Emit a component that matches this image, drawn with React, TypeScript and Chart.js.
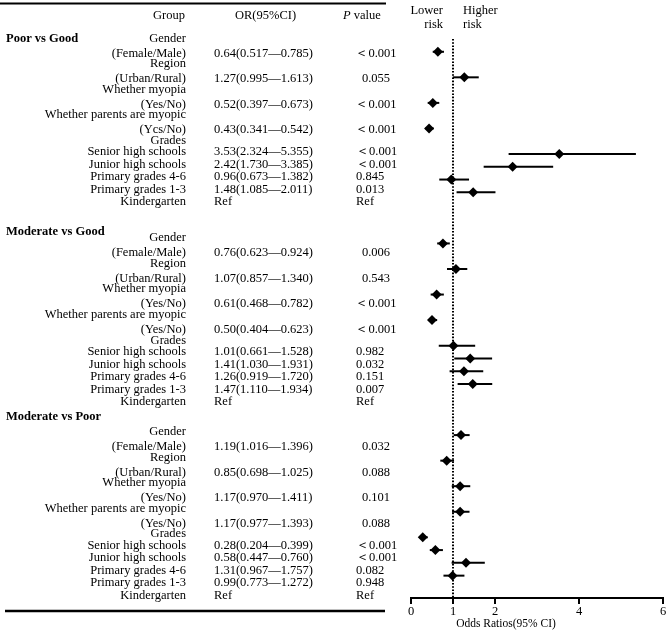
import React, { useEffect, useRef } from "react";
import { Chart, registerables } from "chart.js";

Chart.register(...registerables);

// ---------- data ----------
const GROUPS = ["Poor vs Good", "Moderate vs Good", "Moderate vs Poor"];
const VARIABLES = ["Gender", "Region", "Whether myopia", "Whether parents are myopic"];
const LEVELS_POOR_GOOD = ["(Female/Male)", "(Urban/Rural)", "(Yes/No)", "(Ycs/No)"];
const LEVELS_MOD_GOOD = ["(Female/Male)", "(Urban/Rural)", "(Yes/No)", "(Yes/No)"];
const LEVELS_MOD_POOR = ["(Female/Male)", "(Urban/Rural)", "(Yes/No)", "(Yes/No)"];
const GRADE_TITLE = "Grades";
const GRADES = ["Senior high schools", "Junior high schools", "Primary grades 4-6", "Primary grades 1-3"];
const REFERENCE_GRADE = "Kindergarten";
const REF_TEXT = "Ref";

const OR_POOR_GOOD = [0.64, 1.27, 0.52, 0.43, 3.53, 2.42, 0.96, 1.48];
const LO_POOR_GOOD = [0.517, 0.995, 0.397, 0.341, 2.324, 1.73, 0.673, 1.085];
const HI_POOR_GOOD = [0.785, 1.613, 0.673, 0.542, 5.355, 3.385, 1.382, 2.011];
const P_POOR_GOOD = ["＜0.001", "0.055", "＜0.001", "＜0.001", "＜0.001", "＜0.001", "0.845", "0.013"];

const OR_MOD_GOOD = [0.76, 1.07, 0.61, 0.5, 1.01, 1.41, 1.26, 1.47];
const LO_MOD_GOOD = [0.623, 0.857, 0.468, 0.404, 0.661, 1.03, 0.919, 1.11];
const HI_MOD_GOOD = [0.924, 1.34, 0.782, 0.623, 1.528, 1.931, 1.72, 1.934];
const P_MOD_GOOD = ["0.006", "0.543", "＜0.001", "＜0.001", "0.982", "0.032", "0.151", "0.007"];

const OR_MOD_POOR = [1.19, 0.85, 1.17, 1.17, 0.28, 0.58, 1.31, 0.99];
const LO_MOD_POOR = [1.016, 0.698, 0.97, 0.977, 0.204, 0.447, 0.967, 0.773];
const HI_MOD_POOR = [1.396, 1.025, 1.411, 1.393, 0.399, 0.76, 1.757, 1.272];
const P_MOD_POOR = ["0.032", "0.088", "0.101", "0.088", "＜0.001", "＜0.001", "0.082", "0.948"];

const X_TICKS = [0, 1, 2, 4, 6];
const X_TITLE = "Odds Ratios(95% CI)";
const HEADERS = ["Group", "OR(95%CI)", "P", " value"];
const RISK_LOW = ["Lower", "risk"];
const RISK_HIGH = ["Higher", "risk"];

// ---------- assembled ----------
const LEVELS = [LEVELS_POOR_GOOD, LEVELS_MOD_GOOD, LEVELS_MOD_POOR];
const ORS = [OR_POOR_GOOD, OR_MOD_GOOD, OR_MOD_POOR];
const LOS = [LO_POOR_GOOD, LO_MOD_GOOD, LO_MOD_POOR];
const HIS = [HI_POOR_GOOD, HI_MOD_GOOD, HI_MOD_POOR];
const PS = [P_POOR_GOOD, P_MOD_GOOD, P_MOD_POOR];

// ---------- layout ----------
const W = 669;
const H = 634;
const FONT = "'Liberation Serif', 'Times New Roman', serif";
const FS = 12.5;
const COL_HEAD_LEFT = 6;
const COL_GROUP_RIGHT = 186;
const COL_OR_LEFT = 214;
const COL_P_PAIR_CENTER = 376;
const COL_P_GRADE_LEFT = 356;
const BLOCK_TOP = [38.3, 238, 431.7];
const HEADING_DY = [0, -6.5, -15];
const LABEL_TO_VALUE = 15;
const PAIR_STEP = 25.6;
const GRADE_FIRST = 11.5;
const GRADE_STEP = 12.5;
const ROWS_PER_BLOCK = 15;
const FIRST_ROW = 4;

function markerRow(g: number, i: number) {
  return FIRST_ROW + ROWS_PER_BLOCK * g + (i < 4 ? 2 * i : 8 + (i - 4));
}

const points: any[] = [];
ORS.forEach((arr, g) =>
  arr.forEach((v, i) => points.push({ x: v, y: markerRow(g, i), lo: LOS[g][i], hi: HIS[g][i] }))
);

function fmtOR(g: number, i: number) {
  return `${ORS[g][i].toFixed(2)}(${LOS[g][i].toFixed(3)}—${HIS[g][i].toFixed(3)})`;
}

const tablePlugin = {
  id: "forestTable",
  beforeDatasetsDraw(chart: any) {
    const { ctx, scales } = chart;
    const xs = scales.x;
    const ys = scales.y;
    ctx.save();
    // reference line at OR = 1
    const x1 = xs.getPixelForValue(1);
    ctx.strokeStyle = "#000";
    ctx.lineWidth = 2;
    ctx.setLineDash([1.6, 1.6]);
    ctx.beginPath();
    ctx.moveTo(x1, chart.chartArea.top);
    ctx.lineTo(x1, chart.chartArea.bottom);
    ctx.stroke();
    ctx.setLineDash([]);
    // confidence intervals
    ctx.lineWidth = 2;
    const data = chart.data.datasets[0].data;
    data.forEach((p: any) => {
      const y = ys.getPixelForValue(p.y);
      ctx.beginPath();
      ctx.moveTo(xs.getPixelForValue(p.lo), y);
      ctx.lineTo(xs.getPixelForValue(p.hi), y);
      ctx.stroke();
    });
    ctx.restore();
  },
  afterDraw(chart: any) {
    const { ctx } = chart;
    ctx.save();
    ctx.fillStyle = "#000";
    ctx.textBaseline = "middle";
    const normal = `${FS}px ${FONT}`;
    const bold = `bold ${FS}px ${FONT}`;
    const italic = `italic ${FS}px ${FONT}`;

    // rules
    ctx.strokeStyle = "#000";
    ctx.lineWidth = 2;
    ctx.beginPath();
    ctx.moveTo(0, 3.5);
    ctx.lineTo(386, 3.5);
    ctx.stroke();
    ctx.lineWidth = 2.5;
    ctx.beginPath();
    ctx.moveTo(5, 611);
    ctx.lineTo(385, 611);
    ctx.stroke();

    // header
    ctx.font = normal;
    ctx.textAlign = "right";
    ctx.fillText(HEADERS[0], 185, 16);
    ctx.textAlign = "center";
    ctx.fillText(HEADERS[1], 265.5, 16);
    ctx.textAlign = "left";
    ctx.font = italic;
    ctx.fillText(HEADERS[2], 343, 16);
    const pw = ctx.measureText(HEADERS[2]).width;
    ctx.font = normal;
    ctx.fillText(HEADERS[3], 343 + pw, 16);

    // risk labels
    ctx.textAlign = "right";
    ctx.fillText(RISK_LOW[0], 443, 10.7);
    ctx.fillText(RISK_LOW[1], 443, 24.3);
    ctx.textAlign = "left";
    ctx.fillText(RISK_HIGH[0], 463, 10.7);
    ctx.fillText(RISK_HIGH[1], 463, 24.3);

    // x title
    ctx.textAlign = "center";
    ctx.font = `11.5px ${FONT}`;
    ctx.fillText(X_TITLE, 506, 624);

    // blocks
    GROUPS.forEach((name, g) => {
      const top = BLOCK_TOP[g];
      ctx.font = bold;
      ctx.textAlign = "left";
      ctx.fillText(name, COL_HEAD_LEFT, top + HEADING_DY[g]);
      ctx.font = normal;
      for (let i = 0; i < 4; i++) {
        const ly = top + PAIR_STEP * i;
        const vy = ly + LABEL_TO_VALUE;
        ctx.textAlign = "right";
        ctx.fillText(VARIABLES[i], COL_GROUP_RIGHT, ly);
        ctx.fillText(LEVELS[g][i], COL_GROUP_RIGHT, vy);
        ctx.textAlign = "left";
        ctx.fillText(fmtOR(g, i), COL_OR_LEFT, vy);
        ctx.textAlign = "center";
        ctx.fillText(PS[g][i], COL_P_PAIR_CENTER, vy);
      }
      const gy = top + PAIR_STEP * 4;
      ctx.textAlign = "right";
      ctx.fillText(GRADE_TITLE, COL_GROUP_RIGHT, gy);
      for (let k = 0; k < 5; k++) {
        const ry = gy + GRADE_FIRST + GRADE_STEP * k;
        ctx.textAlign = "right";
        ctx.fillText(k < 4 ? GRADES[k] : REFERENCE_GRADE, COL_GROUP_RIGHT, ry);
        ctx.textAlign = "left";
        ctx.fillText(k < 4 ? fmtOR(g, 4 + k) : REF_TEXT, COL_OR_LEFT, ry);
        ctx.fillText(k < 4 ? PS[g][4 + k] : REF_TEXT, COL_P_GRADE_LEFT, ry);
      }
    });
    ctx.restore();
  },
};

export default function App() {
  const ref = useRef<HTMLCanvasElement>(null);
  useEffect(() => {
    document.body.style.margin = "0";
    const canvas = ref.current;
    if (!canvas) return;
    const chart = new Chart(canvas, {
      type: "scatter",
      data: {
        datasets: [
          {
            data: points,
            pointStyle: "rectRot",
            pointRadius: 5,
            pointHoverRadius: 5,
            backgroundColor: "#000",
            borderColor: "#000",
            borderWidth: 0,
            clip: false,
          } as any,
        ],
      },
      options: {
        responsive: false,
        animation: false,
        events: [],
        layout: { padding: { left: 411, right: 6, top: 39, bottom: 15.5 } },
        plugins: { legend: { display: false }, tooltip: { enabled: false } },
        scales: {
          x: {
            type: "linear",
            min: 0,
            max: 6,
            afterBuildTicks: (s: any) => {
              s.ticks = X_TICKS.map((v) => ({ value: v }));
            },
            grid: { display: true, drawOnChartArea: false, drawTicks: true, tickLength: 6, lineWidth: 2, color: "#000" },
            border: { display: true, color: "#000", width: 2 },
            ticks: {
              color: "#000",
              padding: 1,
              autoSkip: false,
              maxRotation: 0,
              font: { family: FONT, size: FS, lineHeight: 1 },
            },
          },
          y: { type: "linear", display: false, reverse: true, min: 3, max: 46.75 },
        },
      },
      plugins: [tablePlugin],
    } as any);
    return () => chart.destroy();
  }, []);
  return (
    <div style={{ width: W, height: H }}>
      <canvas ref={ref} width={W} height={H} style={{ display: "block", width: W, height: H }} />
    </div>
  );
}
